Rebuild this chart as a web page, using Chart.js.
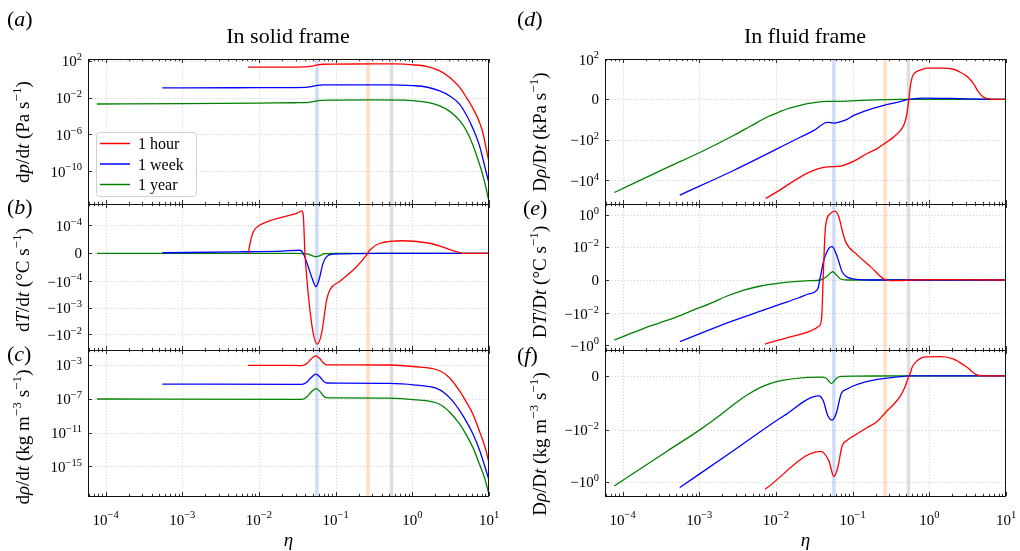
<!DOCTYPE html>
<html><head><meta charset="utf-8">
<script src="https://cdn.jsdelivr.net/npm/chart.js@4.4.1/dist/chart.umd.min.js"></script>
<style>
html,body{margin:0;padding:0;background:#fff;}
#wrap{position:relative;width:1020px;height:551px;overflow:hidden;background:#fff;}
#wrap canvas{position:absolute;}
</style></head>
<body><div id="wrap"></div>
<script>
// ---------------- data ----------------
const seriesNames = ['1 hour', '1 week', '1 year'];
const seriesColors = ['#ff0000', '#0000ff', '#008000'];
const bandEta = [0.057, 0.265, 0.535];
const bandColors = ['rgba(100,149,237,0.32)', 'rgba(255,160,80,0.32)', 'rgba(128,128,128,0.26)'];
const xTickVals = [1e-4, 1e-3, 1e-2, 1e-1, 1e0, 1e1];
const xTickLabels = ['10^−4', '10^−3', '10^−2', '10^−1', '10^0', '10^1'];

// (a) dp/dt, solid frame
const aHourEta = [7.2e-3, 0.02, 0.04, 0.05, 0.058, 0.07, 0.1, 0.3, 0.6, 1.02, 1.53, 2.28, 3.08, 4.15, 5.08, 6.2, 7.56, 8.36, 9.25, 10];
const aHourVal = [20, 20.4, 21.4, 26.3, 36.3, 41.7, 42.7, 45.7, 44.7, 36.3, 24.5, 7.94, 1.55, 0.126, 0.01, 6.3e-4, 1.86e-5, 1.26e-6, 2.24e-8, 1e-9];
const aWeekEta = [5.5e-4, 5e-3, 0.02, 0.04, 0.05, 0.058, 0.07, 0.2, 0.5, 1.02, 1.53, 2.28, 3.08, 4.15, 5.08, 6.2, 7.56, 8.36, 9.25, 10];
const aWeekVal = [0.112, 0.117, 0.123, 0.129, 0.166, 0.214, 0.234, 0.245, 0.245, 0.2, 0.141, 0.0525, 0.0148, 1.86e-3, 1.26e-4, 3.98e-6, 5.0e-8, 2.0e-9, 6.3e-11, 5.0e-12];
const aYearEta = [7.7e-5, 1e-3, 0.01, 0.03, 0.042, 0.052, 0.06, 0.08, 0.3, 0.8, 1.02, 1.53, 2.28, 3.08, 4.15, 5.08, 6.2, 7.56, 8.36, 9.25, 10];
const aYearVal = [2.0e-3, 2.19e-3, 2.51e-3, 2.75e-3, 2.88e-3, 3.8e-3, 4.68e-3, 5.25e-3, 5.62e-3, 5.37e-3, 4.68e-3, 3.16e-3, 1.26e-3, 3.16e-4, 3.16e-5, 2.5e-6, 6.3e-8, 5.0e-10, 3.16e-11, 1e-12, 5.0e-14];
const aYTicks = [1e2, 1e-2, 1e-6, 1e-10];
const aYLabels = ['10^2', '10^−2', '10^−6', '10^−10'];

// (b) dT/dt, solid frame
const bHourEta = [7.28e-3, 7.66e-3, 8.45e-3, 0.0103, 0.014, 0.0208, 0.031, 0.036, 0.0378, 0.0398, 0.0427, 0.0462, 0.051, 0.0575, 0.0657, 0.0763, 0.0843, 0.114, 0.1875, 0.2535, 0.28, 0.378, 0.76, 1.69, 3.77, 4.58, 10];
const bHourVal = [0, 3.6e-5, 7.7e-5, 1.03e-4, 1.5e-4, 2.1e-4, 2.8e-4, 3.5e-4, 2.5e-4, 0, -1.2e-4, -1.2e-3, -8.9e-3, -0.023, -8.9e-3, -5.1e-4, -2.1e-4, -1.0e-4, -4.8e-5, -6e-6, 1.2e-5, 3.6e-5, 4.5e-5, 3.6e-5, 6e-6, 0, 0];
const bWeekEta = [5.5e-4, 5e-3, 0.02, 0.0341, 0.0377, 0.0439, 0.0502, 0.0552, 0.0607, 0.0685, 0.0763, 0.0927, 0.2, 1, 10];
const bWeekVal = [2e-6, 5e-6, 8e-6, 1.1e-5, 0, -4.8e-5, -9.5e-5, -1.6e-4, -9.5e-5, -3.6e-5, -1.2e-5, -3e-6, -1e-6, 0, 0];
const bYearEta = [7.7e-5, 0.03, 0.042, 0.05, 0.056, 0.062, 0.072, 0.1, 10];
const bYearVal = [0, 0, -2e-6, -9e-6, -1.2e-5, -9e-6, -1e-6, 0, 0];
const bYTicks = [1e-4, 0, -1e-4, -1e-3, -1e-2];
const bYLabels = ['10^−4', '0', '−10^−4', '−10^−3', '−10^−2'];

// (c) drho/dt, solid frame
const cHourEta = [7.2e-3, 0.03, 0.036, 0.042, 0.048, 0.055, 0.062, 0.069, 0.076, 0.1, 0.5, 1.02, 2.28, 3.08, 4.15, 5.08, 6.2, 7.56, 8.36, 9.25, 10];
const cHourVal = [8.5e-4, 8.5e-4, 7.9e-4, 1.41e-3, 5.0e-3, 1.12e-2, 5.6e-3, 1.78e-3, 1.0e-3, 1.0e-3, 9.5e-4, 6.3e-4, 2.0e-4, 2.8e-5, 7.9e-7, 4.0e-8, 1.41e-9, 1.26e-11, 1.0e-12, 5.0e-14, 2.5e-15];
const cWeekEta = [5.5e-4, 0.036, 0.042, 0.048, 0.055, 0.062, 0.069, 0.076, 0.1, 0.5, 1.02, 2.28, 3.08, 4.15, 5.08, 6.2, 7.56, 8.36, 9.25, 10];
const cWeekVal = [5.4e-6, 5.0e-6, 8.9e-6, 3.16e-5, 7.9e-5, 4.0e-5, 1.26e-5, 7.1e-6, 6.8e-6, 6.3e-6, 4.3e-6, 1.12e-6, 1.26e-7, 4.0e-9, 2.0e-10, 6.3e-12, 7.9e-14, 5.0e-15, 2.5e-16, 2.5e-17];
const cYearEta = [7.7e-5, 0.036, 0.042, 0.048, 0.055, 0.062, 0.069, 0.076, 0.1, 0.5, 1.02, 2.28, 3.08, 4.15, 5.08, 6.2, 7.56, 8.36, 9.25, 10];
const cYearVal = [9.3e-8, 8.3e-8, 1.58e-7, 6.3e-7, 1.58e-6, 7.9e-7, 2.24e-7, 1.32e-7, 1.26e-7, 1.17e-7, 7.9e-8, 2.24e-8, 2.5e-9, 1.0e-10, 5.0e-12, 1.58e-13, 1.58e-15, 1.58e-16, 7.9e-18, 5.0e-19];
const cYTicks = [1e-3, 1e-7, 1e-11, 1e-15];
const cYLabels = ['10^−3', '10^−7', '10^−11', '10^−15'];

// (d) Dp/Dt, fluid frame
const dHourEta = [7.34e-3, 0.0468, 0.0569, 0.0695, 0.1035, 0.155, 0.209, 0.268, 0.344, 0.42, 0.464, 0.489, 0.514, 0.54, 0.568, 0.6, 0.66, 0.8, 0.93, 1.4, 2.0, 2.54, 3.2, 3.78, 4.4, 5.1, 6.25, 10];
const dHourVal = [-7.8e4, -2.14e3, -2.1e3, -2.0e3, -1.13e3, -470, -269, -141, -72, -34, -19, -10.7, -6.3, 0, 6.9, 13, 22, 30, 35, 35, 32, 22, 12.6, 7.7, 3.6, 1.1, 0.2, 0];
const dWeekEta = [5.57e-4, 2.84e-3, 0.021, 0.0313, 0.0468, 0.0569, 0.0695, 0.085, 0.1035, 0.14, 0.189, 0.255, 0.344, 0.443, 0.54, 0.93, 1.88, 5.1, 10];
const dWeekVal = [-5.37e4, -3.16e3, -72, -34, -13.5, -14.7, -12.5, -9.85, -7.9, -5.9, -4.3, -2.96, -1.8, -0.8, 0, 0.64, 0.5, 0.15, 0];
const dYearEta = [7.8e-5, 3.85e-4, 1.05e-3, 2.84e-3, 4.7e-3, 7.7e-3, 0.0104, 0.0141, 0.019, 0.0257, 0.0347, 0.0468, 0.0695, 0.155, 0.42, 10];
const dYearVal = [-3.98e4, -2.3e3, -398, -59, -20.6, -8.7, -6.6, -4.6, -3.3, -2.1, -1.3, -1.0, -0.95, -0.34, 0, 0];
const dYTicks = [1e2, 0, -1e2, -1e4];
const dYLabels = ['10^2', '0', '−10^2', '−10^4'];

// (e) DT/Dt, fluid frame
const eHourEta = [7.2e-3, 0.019, 0.0367, 0.0394, 0.0418, 0.0443, 0.0515, 0.0586, 0.066, 0.073, 0.081, 0.115, 0.171, 0.255, 0.312, 0.45, 0.69, 1.5, 10];
const eHourVal = [-0.85, -0.229, -0.062, -0.020, 7.6e-4, 0.18, 1.23, 1.74, 0.76, 0.111, 0.020, 3.0e-3, 7.6e-4, 5.7e-5, -4e-5, -3e-5, 1e-5, 2e-5, 0];
const eWeekEta = [5.6e-4, 2.57e-3, 6.98e-3, 0.0117, 0.019, 0.0257, 0.0343, 0.0357, 0.038, 0.0422, 0.049, 0.054, 0.063, 0.073, 0.094, 0.171, 10];
const eWeekVal = [-0.6, -0.033, -6e-3, -2.5e-3, -1.1e-3, -8.1e-4, -5.7e-4, -4e-4, 1.9e-4, 1.41e-3, 7.8e-3, 9.8e-3, 2.3e-3, 4.7e-4, 9.5e-5, 0, 0];
const eYearEta = [7.8e-5, 1.9e-4, 5.2e-4, 8.5e-4, 1.4e-3, 2.31e-3, 3.83e-3, 6.3e-3, 0.0105, 0.0171, 0.028, 0.038, 0.046, 0.0552, 0.0625, 0.0695, 0.085, 10];
const eYearVal = [-0.47, -0.087, -0.016, -6.0e-3, -2.3e-3, -9.1e-4, -5.7e-4, -3.4e-4, -1.9e-4, -9.5e-5, -4e-5, 0, 2e-4, 4.7e-4, 2.5e-4, 5.7e-5, 0, 0];
const eYTicks = [1, 1e-2, 0, -1e-2, -1];
const eYLabels = ['10^0', '10^−2', '0', '−10^−2', '−10^0'];

// (f) Drho/Dt, fluid frame
const fHourEta = [7.2e-3, 0.038, 0.049, 0.0569, 0.064, 0.073, 0.085, 0.1035, 0.155, 0.209, 0.268, 0.344, 0.42, 0.489, 0.514, 0.568, 0.597, 0.66, 0.88, 1.4, 2.08, 3.1, 4.19, 5.66, 10];
const fHourVal = [-1.92, -0.069, -0.158, -0.627, -0.284, -0.0424, -0.0256, -0.0175, -8.4e-3, -4.95e-3, -2.24e-3, -1.08e-3, -7.3e-4, -3.6e-4, -1.8e-4, 1.24e-4, 3.1e-4, 4.9e-4, 6.9e-4, 7.0e-4, 6.1e-4, 3.1e-4, 3.6e-5, 0, 0];
const fWeekEta = [5.57e-4, 2.84e-3, 0.0127, 0.0363, 0.0414, 0.0475, 0.054, 0.0617, 0.0711, 0.085, 0.1035, 0.14, 0.189, 0.282, 0.42, 0.54, 10];
const fWeekVal = [-1.65, -0.062, -3.0e-3, -7.3e-4, -9.1e-4, -3.0e-3, -4.4e-3, -2.24e-3, -6.4e-4, -4.8e-4, -3.6e-4, -2.4e-4, -1.57e-4, -8.4e-5, -3e-5, 0, 0];
const fYearEta = [7.8e-5, 3.85e-4, 1.05e-3, 1.9e-3, 2.84e-3, 4.25e-3, 6.3e-3, 9.4e-3, 0.0127, 0.0257, 0.038, 0.045, 0.053, 0.061, 0.0695, 0.1035, 0.42, 10];
const fYearVal = [-1.44, -0.066, -9.7e-3, -2.75e-3, -1.08e-3, -6.9e-4, -4.2e-4, -2.4e-4, -1.57e-4, -5.8e-5, -4.7e-5, -8e-5, -2.8e-4, -1.0e-4, -2e-5, -1e-5, 0, 0];
const fYTicks = [0, -1e-2, -1];
const fYLabels = ['0', '−10^−2', '−10^0'];

// ---------------- rendering ----------------
const SERIF = "'Liberation Serif','Times New Roman',serif";

class SymlogScale extends Chart.Scale {
  static id = 'symlog';
  static defaults = {};
  parse(raw) { return (raw === null || raw === undefined) ? null : +raw; }
  determineDataLimits() { this.min = this.options.min; this.max = this.options.max; }
  buildTicks() { return (this.options.tickValues || []).map(v => ({ value: v })); }
  _tf(v) { const L = this.options.linthresh, c = this.options.linscale; const a = Math.abs(v), s = v < 0 ? -1 : 1; return a <= L ? s * c * a / L : s * (c + Math.log10(a / L)); }
  _itf(t) { const L = this.options.linthresh, c = this.options.linscale; const a = Math.abs(t), s = t < 0 ? -1 : 1; return a <= c ? s * L * a / c : s * L * Math.pow(10, a - c); }
  configure() { super.configure(); this._t0 = this._tf(this.min); this._t1 = this._tf(this.max); }
  getPixelForValue(v) { return this.getPixelForDecimal((this._tf(v) - this._t0) / (this._t1 - this._t0)); }
  getValueForPixel(p) { return this._itf(this._t0 + this.getDecimalForPixel(p) * (this._t1 - this._t0)); }
  getLabelForValue(v) { return String(v); }
}
Chart.register(SymlogScale);

function fontFor(s, size) {
  if (s === 'i') return 'italic ' + size + 'px ' + SERIF;
  if (s === 's') return (size * 0.7).toFixed(1) + 'px ' + SERIF;
  return size + 'px ' + SERIF;
}
function richWidth(ctx, segs, size) { let w = 0; for (const [t, s] of segs) { ctx.font = fontFor(s, size); w += ctx.measureText(t).width; } return w; }
function drawRich(ctx, segs, x, y, size) {
  let cx = x;
  for (const [t, s] of segs) { ctx.font = fontFor(s, size); ctx.fillText(t, cx, s === 's' ? y - size * 0.42 : y); cx += ctx.measureText(t).width; }
}
function powSegs(label) {
  const p = label.split('^');
  return p.length > 1 ? [[p[0], 'n'], [p[1], 's']] : [[p[0], 'n']];
}

const panelPlugin = {
  id: 'panel',
  beforeDatasetsDraw(chart, args, o) {
    const ctx = chart.ctx, ca = chart.chartArea, xs = chart.scales.x, ys = chart.scales.y;
    ctx.save();
    ctx.strokeStyle = 'rgba(0,0,0,0.22)'; ctx.lineWidth = 0.8; ctx.setLineDash([1.2, 2]);
    for (const v of xTickVals) {
      const px = Math.round(xs.getPixelForValue(v)) + 0.5;
      if (px <= ca.left + 1 || px >= ca.right - 1) continue;
      ctx.beginPath(); ctx.moveTo(px, ca.top); ctx.lineTo(px, ca.bottom); ctx.stroke();
    }
    for (const v of o.yTicks) {
      const py = Math.round(ys.getPixelForValue(v)) + 0.5;
      if (py <= ca.top + 1 || py >= ca.bottom - 1) continue;
      ctx.beginPath(); ctx.moveTo(ca.left, py); ctx.lineTo(ca.right, py); ctx.stroke();
    }
    ctx.restore();
  },
  afterDatasetsDraw(chart, args, o) {
    const ctx = chart.ctx, ca = chart.chartArea, xs = chart.scales.x, ys = chart.scales.y;
    ctx.save();
    ctx.strokeStyle = '#000'; ctx.lineWidth = 0.8; ctx.setLineDash([]);
    const xt = [];
    for (let k = -5; k <= 1; k++) for (let m = 1; m <= 9; m++) xt.push([m * Math.pow(10, k), m === 1]);
    for (const [v, major] of xt) {
      if (v < xs.min || v > xs.max) continue;
      const px = Math.round(xs.getPixelForValue(v)) + 0.5;
      const len = major ? 4 : 2.2;
      ctx.beginPath();
      ctx.moveTo(px, ca.bottom); ctx.lineTo(px, ca.bottom - len);
      ctx.moveTo(px, ca.top); ctx.lineTo(px, ca.top + len);
      ctx.stroke();
    }
    for (const v of o.yTicks) {
      const py = Math.round(ys.getPixelForValue(v)) + 0.5;
      ctx.beginPath(); ctx.moveTo(ca.left, py); ctx.lineTo(ca.left + 4, py); ctx.stroke();
    }
    ctx.lineWidth = 1; ctx.strokeStyle = '#111';
    ctx.strokeRect(Math.round(ca.left) + 0.5, Math.round(ca.top) + 0.5, Math.round(ca.right - ca.left) - 1, Math.round(ca.bottom - ca.top));
    ctx.fillStyle = '#000'; ctx.textAlign = 'left'; ctx.textBaseline = 'alphabetic';
    o.yTicks.forEach((v, i) => {
      const py = ys.getPixelForValue(v);
      const segs = powSegs(o.yLabels[i]);
      const w = richWidth(ctx, segs, 15);
      drawRich(ctx, segs, ca.left - 6 - w, py + (segs.length > 1 ? 5.5 : 5), 15);
    });
    if (o.xLabels) {
      xTickVals.forEach((v, i) => {
        const px = xs.getPixelForValue(v);
        const segs = powSegs(xTickLabels[i]);
        const w = richWidth(ctx, segs, 15);
        drawRich(ctx, segs, px - w / 2, ca.bottom + 28.5, 15);
      });
      const segs = [['η', 'i']];
      const w = richWidth(ctx, segs, 19);
      drawRich(ctx, segs, (ca.left + ca.right) / 2 - w / 2, ca.bottom + 50, 19);
    }
    ctx.translate(-o.ox, -o.oy);
    if (o.title) {
      ctx.font = '22px ' + SERIF; const w = ctx.measureText(o.title).width;
      ctx.fillText(o.title, o.titleX - w / 2, 43);
    }
    drawRich(ctx, [['(', 'n'], [o.tag, 'i'], [')', 'n']], o.tagX, o.tagY, 22);
    ctx.save();
    ctx.translate(o.ytX, o.ytY); ctx.rotate(-Math.PI / 2);
    const tw = richWidth(ctx, o.yTitle, 19);
    drawRich(ctx, o.yTitle, -tw / 2, 0, 19);
    ctx.restore();
    if (o.legend) {
      const bx = 96, by = 132, bw = 100, bh = 64;
      ctx.beginPath(); ctx.roundRect(bx + 0.5, by + 0.5, bw, bh, 3);
      ctx.fillStyle = 'rgba(255,255,255,0.85)'; ctx.fill();
      ctx.strokeStyle = '#d0d0d0'; ctx.lineWidth = 1; ctx.stroke();
      [143.5, 164, 184.5].forEach((ry, i) => {
        const ds = chart.data.datasets[i];
        ctx.strokeStyle = ds.borderColor; ctx.lineWidth = 1.5;
        ctx.beginPath(); ctx.moveTo(100, ry); ctx.lineTo(130, ry); ctx.stroke();
        ctx.fillStyle = '#000'; ctx.font = '16px ' + SERIF;
        ctx.fillText(ds.label, 138, ry + 5.5);
      });
    }
    ctx.restore();
  }
};

const cols = [
  { left: 0, width: 510, aL: 88, aR: 489, ytX: 29, titleX: 288, tagX: 7, title: 'In solid frame' },
  { left: 510, width: 510, aL: 605, aR: 1006, ytX: 545.5, titleX: 805, tagX: 517, title: 'In fluid frame' }
];
const rows = [
  { top: 0, height: 215, aT: 59, aB: 204 },
  { top: 188, height: 172, aT: 204, aB: 350 },
  { top: 338, height: 213, aT: 350, aB: 496 }
];

const panels = [
  { tag: 'a', col: 0, row: 0, type: 'logarithmic', min: 2.75e-14, max: 155, yTicks: aYTicks, yLabels: aYLabels,
    series: [[aHourEta, aHourVal], [aWeekEta, aWeekVal], [aYearEta, aYearVal]], tagY: 26, ytY: 132, legend: true,
    yTitle: [['d', 'n'], ['p', 'i'], ['/d', 'n'], ['t', 'i'], [' (Pa s', 'n'], ['−1', 's'], [')', 'n']] },
  { tag: 'b', col: 0, row: 1, type: 'symlog', min: -0.0385, max: 6.36e-4, L: 1e-4, c: 1.05, yTicks: bYTicks, yLabels: bYLabels,
    series: [[bHourEta, bHourVal], [bWeekEta, bWeekVal], [bYearEta, bYearVal]], tagY: 214, ytY: 280,
    yTitle: [['d', 'n'], ['T', 'i'], ['/d', 'n'], ['t', 'i'], [' (°C s', 'n'], ['−1', 's'], [')', 'n']] },
  { tag: 'c', col: 0, row: 2, type: 'logarithmic', min: 3.3e-19, max: 0.056, yTicks: cYTicks, yLabels: cYLabels,
    series: [[cHourEta, cHourVal], [cWeekEta, cWeekVal], [cYearEta, cYearVal]], tagY: 361, ytY: 437, xLabels: true,
    yTitle: [['d', 'n'], ['ρ', 'i'], ['/d', 'n'], ['t', 'i'], [' (kg m', 'n'], ['−3', 's'], [' s', 'n'], ['−1', 's'], [')', 'n']] },
  { tag: 'd', col: 1, row: 0, type: 'symlog', min: -1.48e5, max: 100, L: 10, c: 1.0, yTicks: dYTicks, yLabels: dYLabels,
    series: [[dHourEta, dHourVal], [dWeekEta, dWeekVal], [dYearEta, dYearVal]], tagY: 26, ytY: 132,
    yTitle: [['D', 'n'], ['ρ', 'i'], ['/D', 'n'], ['t', 'i'], [' (kPa s', 'n'], ['−1', 's'], [')', 'n']] },
  { tag: 'e', col: 1, row: 1, type: 'symlog', min: -2.02, max: 4.84, L: 1e-3, c: 1.11, yTicks: eYTicks, yLabels: eYLabels,
    series: [[eHourEta, eHourVal], [eWeekEta, eWeekVal], [eYearEta, eYearVal]], tagY: 215, ytY: 282, tagDX: 6,
    yTitle: [['D', 'n'], ['T', 'i'], ['/D', 'n'], ['t', 'i'], [' (°C s', 'n'], ['−1', 's'], [')', 'n']] },
  { tag: 'f', col: 1, row: 2, type: 'symlog', min: -3.47, max: 9.4e-4, L: 1e-3, c: 1.05, yTicks: fYTicks, yLabels: fYLabels,
    series: [[fHourEta, fHourVal], [fWeekEta, fWeekVal], [fYearEta, fYearVal]], tagY: 362, ytY: 444, xLabels: true,
    yTitle: [['D', 'n'], ['ρ', 'i'], ['/D', 'n'], ['t', 'i'], [' (kg m', 'n'], ['−3', 's'], [' s', 'n'], ['−1', 's'], [')', 'n']] }
];

const wrap = document.getElementById('wrap');
panels.forEach(p => {
  const C = cols[p.col], R = rows[p.row];
  const cv = document.createElement('canvas');
  cv.width = C.width; cv.height = R.height;
  cv.style.left = C.left + 'px'; cv.style.top = R.top + 'px';
  cv.style.width = C.width + 'px'; cv.style.height = R.height + 'px';
  wrap.appendChild(cv);
  const datasets = [];
  p.series.forEach(([eta, val], i) => datasets.push({
    label: seriesNames[i], data: eta.map((e, k) => ({ x: e, y: val[k] })),
    borderColor: seriesColors[i], borderWidth: 1.3, pointRadius: 0, fill: false,
    cubicInterpolationMode: 'monotone'
  }));
  bandEta.forEach((e, i) => datasets.push({
    label: 'band' + i, data: [{ x: e, y: p.min }, { x: e, y: p.max }],
    borderColor: bandColors[i], borderWidth: 3.5, pointRadius: 0, fill: false
  }));
  const yScale = p.type === 'symlog'
    ? { type: 'symlog', display: false, min: p.min, max: p.max, linthresh: p.L, linscale: p.c, tickValues: p.yTicks }
    : { type: 'logarithmic', display: false, min: p.min, max: p.max };
  new Chart(cv, {
    type: 'line',
    data: { datasets },
    plugins: [panelPlugin],
    options: {
      responsive: false, animation: false, devicePixelRatio: 1, events: [],
      layout: { padding: { left: C.aL - C.left, right: C.left + C.width - C.aR, top: R.aT - R.top, bottom: R.top + R.height - R.aB } },
      plugins: {
        legend: { display: false }, tooltip: { enabled: false },
        panel: {
          yTicks: p.yTicks, yLabels: p.yLabels, xLabels: !!p.xLabels, legend: !!p.legend,
          ox: C.left, oy: R.top, title: p.row === 0 ? C.title : null, titleX: C.titleX,
          tag: p.tag, tagX: C.tagX + (p.tagDX || 0), tagY: p.tagY, ytX: C.ytX, ytY: p.ytY, yTitle: p.yTitle
        }
      },
      scales: {
        x: { type: 'logarithmic', display: false, min: 5.9e-5, max: 10 },
        y: yScale
      }
    }
  });
});
</script>
</body></html>
